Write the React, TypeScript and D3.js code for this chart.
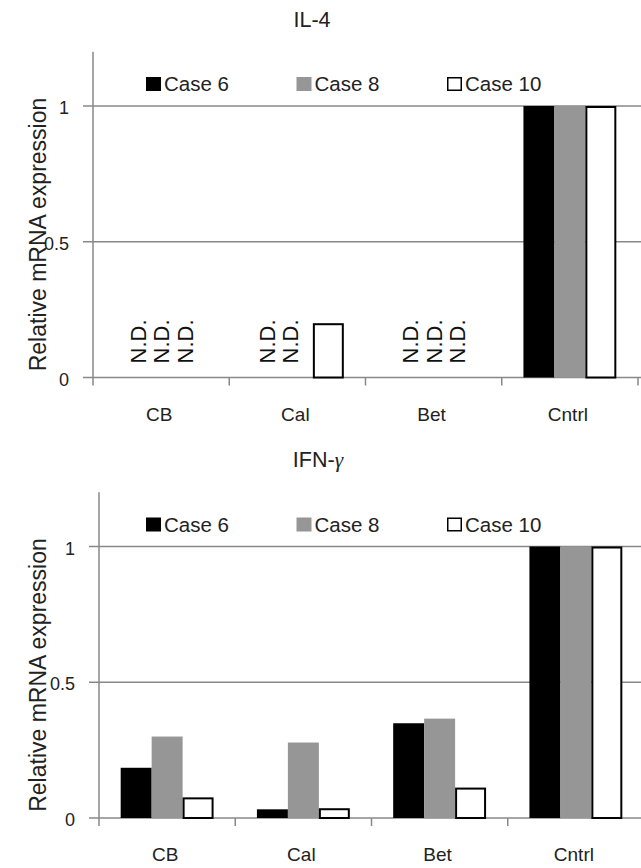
import { useEffect, useRef } from 'react';
import * as d3 from 'd3';

// categories and series
const categories = ['CB', 'Cal', 'Bet', 'Cntrl'];
const seriesNames = ['Case 6', 'Case 8', 'Case 10'];
const seriesColors = ['#000000', '#969696', '#ffffff'];
const yTicks = [0, 0.5, 1];

// IL-4 (null = N.D., not detected)
const il4Case6 = [null, null, null, 1];
const il4Case8 = [null, null, null, 1];
const il4Case10 = [null, 0.2, null, 1];

// IFN-gamma
const ifnCase6 = [0.185, 0.032, 0.349, 1];
const ifnCase8 = [0.3, 0.278, 0.366, 1];
const ifnCase10 = [0.076, 0.036, 0.112, 1];

const FONT = 'Arial, "Liberation Sans", Helvetica, sans-serif';
const AXIS_COLOR = '#888888';

const drawPanel = (svg, { title, series, left, right, zeroY, legendX, gamma }) => {
  const unit = 271.5;
  const g = svg.append('g');

  const x = d3.scaleBand().domain(categories).range([left, right]);
  const inner = d3.scaleBand()
    .domain(seriesNames)
    .range([0, x.bandwidth()])
    .paddingOuter(0.7)
    .paddingInner(0);
  const y = d3.scaleLinear().domain([0, 1.2]).range([zeroY, zeroY - 1.2 * unit]);

  // title
  const t = g.append('text')
    .attr('x', left + 219)
    .attr('y', zeroY - 351)
    .attr('text-anchor', 'middle')
    .attr('font-family', FONT)
    .attr('font-size', 21.5)
    .attr('fill', '#222')
    .text(title);
  if (gamma) {
    t.append('tspan').attr('font-family', '"Liberation Serif", "DejaVu Serif", serif').attr('font-style', 'italic').text('γ');
  }

  // gridlines + y ticks
  g.selectAll('.grid')
    .data(yTicks)
    .enter()
    .append('line')
    .attr('x1', left - 10)
    .attr('x2', 641)
    .attr('y1', d => y(d))
    .attr('y2', d => y(d))
    .attr('stroke', AXIS_COLOR)
    .attr('stroke-width', 1.5);

  g.selectAll('.ylab')
    .data(yTicks)
    .enter()
    .append('text')
    .attr('x', left - 24)
    .attr('y', d => y(d) + 8)
    .attr('text-anchor', 'end')
    .attr('font-family', FONT)
    .attr('font-size', 18)
    .attr('fill', '#222')
    .text(d => d3.format('~g')(d));

  // y axis title
  g.append('text')
    .attr('transform', `translate(46, ${zeroY - 143}) rotate(-90)`)
    .attr('text-anchor', 'middle')
    .attr('font-family', FONT)
    .attr('font-size', 23)
    .attr('fill', '#222')
    .text('Relative mRNA expression');

  // bars
  series.forEach((vals, si) => {
    const name = seriesNames[si];
    const isWhite = si === 2;
    g.selectAll(`.bar${si}`)
      .data(vals.map((v, i) => ({ cat: categories[i], v })).filter(d => d.v !== null))
      .enter()
      .append('rect')
      .attr('x', d => x(d.cat) + inner(name) + (isWhite ? 1 : 0))
      .attr('width', inner.bandwidth() - (isWhite ? 2 : 0))
      .attr('y', d => y(d.v) + (isWhite ? 1 : 0))
      .attr('height', d => zeroY - y(d.v) - (isWhite ? 1 : 0))
      .attr('fill', seriesColors[si])
      .attr('stroke', isWhite ? '#000' : 'none')
      .attr('stroke-width', 2);

    // N.D. labels (not detected)
    const ndOffset = d3.scaleLinear().domain([0, 2]).range([x.bandwidth() / 2 - 23.5, x.bandwidth() / 2 + 23.5]);
    g.selectAll(`.nd${si}`)
      .data(vals.map((v, i) => ({ cat: categories[i], v })).filter(d => d.v === null))
      .enter()
      .append('text')
      .attr('transform', d => `translate(${x(d.cat) + ndOffset(si) + (d.cat === 'Cal' ? -7 : 0) + 8}, ${zeroY - 14}) rotate(-90)`)
      .attr('font-family', FONT)
      .attr('font-size', 22)
      .attr('fill', '#111')
      .text('N.D.');
  });

  // y axis line
  g.append('line')
    .attr('x1', left)
    .attr('x2', left)
    .attr('y1', y(1.2))
    .attr('y2', zeroY + 8)
    .attr('stroke', AXIS_COLOR)
    .attr('stroke-width', 1.5);

  // x ticks at category boundaries
  const bounds = categories.map(c => x(c)).concat([right]).filter(v => v > left);
  g.selectAll('.xtick')
    .data(bounds)
    .enter()
    .append('line')
    .attr('x1', d => d)
    .attr('x2', d => d)
    .attr('y1', zeroY)
    .attr('y2', zeroY + 8)
    .attr('stroke', AXIS_COLOR)
    .attr('stroke-width', 1.5);

  // x labels
  g.selectAll('.xlab')
    .data(categories)
    .enter()
    .append('text')
    .attr('x', d => x(d) + x.bandwidth() / 2 - 2)
    .attr('y', zeroY + 43)
    .attr('text-anchor', 'middle')
    .attr('font-family', FONT)
    .attr('font-size', 19)
    .attr('fill', '#222')
    .text(d => d);

  // legend
  const legendY = zeroY - 286.5;
  seriesNames.forEach((name, i) => {
    const lx = legendX + i * 150.5;
    g.append('rect')
      .attr('x', lx + (i === 2 ? 0.75 : 0))
      .attr('y', legendY - 14 + (i === 2 ? 0.75 : 0))
      .attr('width', i === 2 ? 13.5 : 15)
      .attr('height', i === 2 ? 12.5 : 14)
      .attr('fill', seriesColors[i])
      .attr('stroke', i === 2 ? '#000' : 'none')
      .attr('stroke-width', 1.5);
    g.append('text')
      .attr('x', lx + 18)
      .attr('y', legendY)
      .attr('font-family', FONT)
      .attr('font-size', 20.5)
      .attr('fill', '#222')
      .text(name);
  });
};

const App = () => {
  const ref = useRef(null);

  useEffect(() => {
    d3.select(ref.current).selectAll('*').remove();
    const svg = d3.select(ref.current)
      .append('svg')
      .attr('width', 641)
      .attr('height', 868)
      .style('position', 'absolute')
      .style('left', '0px')
      .style('top', '0px')
      .style('background', '#fff');

    drawPanel(svg, {
      title: 'IL-4',
      series: [il4Case6, il4Case8, il4Case10],
      left: 93,
      right: 638,
      zeroY: 377.5,
      legendX: 146,
      gamma: false
    });
    drawPanel(svg, {
      title: 'IFN-',
      series: [ifnCase6, ifnCase8, ifnCase10],
      left: 99,
      right: 644,
      zeroY: 818,
      legendX: 146,
      gamma: true
    });
  }, []);

  return <div ref={ref}></div>;
};

export default App;
